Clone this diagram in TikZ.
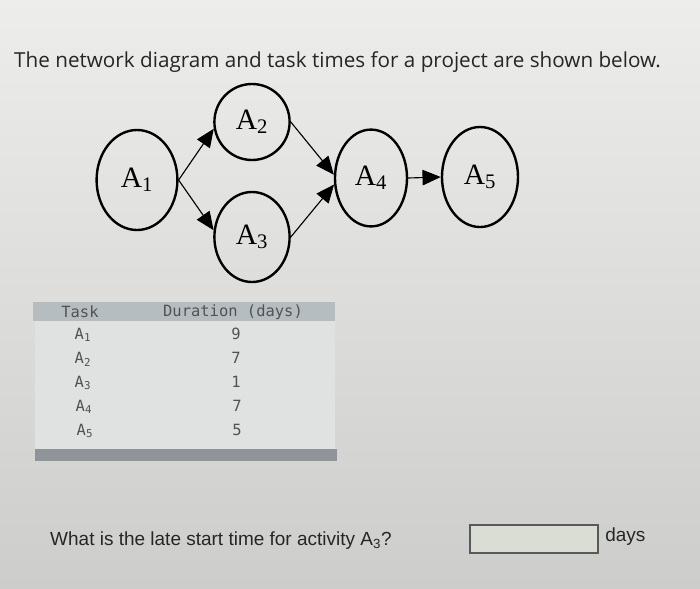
\documentclass[tikz,border=0pt]{standalone}
\usepackage{fontspec}
\setmainfont{Liberation Serif}
\newfontfamily\titlefont{Open Sans}
\newfontfamily\askfont{Liberation Sans}
\newfontfamily\tabfont{DejaVu Sans Mono}
\usetikzlibrary{arrows.meta, shapes}
\definecolor{screentop}{HTML}{EDEDEB}
\definecolor{screenbot}{HTML}{CDCDCB}
\definecolor{headbar}{HTML}{B6BDC1}
\definecolor{footbar}{HTML}{8E9498}
\definecolor{rowband}{HTML}{E0E1E1}
\definecolor{boxfill}{HTML}{D9DDD3}

\begin{document}
\begin{tikzpicture}[x=0.025cm, y=-0.025cm, thick]

	\tikzstyle{act}=[ellipse, draw, line width=1.7pt, inner sep=0pt, text=black, font=\fontsize{21}{22}\selectfont]
	\tikzstyle{link}=[-{Triangle[length=13pt,width=11pt]}, line width=0.8pt, black]
	\tikzstyle{cell}=[text=black!68, font=\tabfont\fontsize{11}{12}\selectfont]

	\shade[top color=screentop, bottom color=screenbot] (0,0) rectangle (700,588);
	\useasboundingbox (0,0) rectangle (700,588);

	\node[anchor=west, text=black!85, font=\titlefont\fontsize{14.7}{17}\selectfont] (title) at (9,62) {The network diagram and task times for a project are shown below.};

	% network
	\node[act, minimum width=2.02cm, minimum height=2.5cm] (a1) at (137,180) {A\textsubscript{1}};
	\node[act, minimum width=1.88cm, minimum height=1.9cm] (a2) at (252,122) {A\textsubscript{2}};
	\node[act, minimum width=1.88cm, minimum height=2.25cm] (a3) at (252,237) {A\textsubscript{3}};
	\node[act, minimum width=1.8cm, minimum height=2.42cm] (a4) at (371,178) {A\textsubscript{4}};
	\node[act, minimum width=1.9cm, minimum height=2.5cm] (a5) at (480,177) {A\textsubscript{5}};

	\draw[link] (a1.east) -- (a2.190);
	\draw[link] (a1.east) -- (a3.170);
	\draw[link] (a2.east) -- (a4.175);
	\draw[link] (a3.east) -- (a4.190);
	\draw[link] (a4.east) -- (a5.west);

	% table
	\fill[rowband] (35,321) rectangle (335,449);
	\fill[headbar] (33,302) rectangle (335,321);
	\fill[footbar] (35,449) rectangle (337,461);
	\node[cell] (task) at (80,312) {Task};
	\node[cell] (dur) at (233,312) {Duration (days)};
	\node[cell] (t1) at (83,335) {A\textsubscript{1}};
	\node[cell] (t2) at (83,359) {A\textsubscript{2}};
	\node[cell] (t3) at (83,383) {A\textsubscript{3}};
	\node[cell] (t4) at (84,407) {A\textsubscript{4}};
	\node[cell] (t5) at (85,431) {A\textsubscript{5}};
	\node[cell] (d1) at (236,334) {9};
	\node[cell] (d2) at (236,358) {7};
	\node[cell] (d3) at (236,382) {1};
	\node[cell] (d4) at (237,406) {7};
	\node[cell] (d5) at (237,430) {5};

	% question
	\node[anchor=west, text=black!85, font=\askfont\fontsize{13.5}{16}\selectfont] (ask) at (45,541) {What is the late start time for activity A\textsubscript{3}?};
	\node[draw=black!65, line width=0.8pt, fill=boxfill, minimum width=3.2cm, minimum height=0.7cm, inner sep=0pt] (answer) at (534,539) {};
	\node[anchor=west, text=black!85, font=\askfont\fontsize{13.5}{16}\selectfont] (unit) at (600,537) {days};

\end{tikzpicture}
\end{document}
